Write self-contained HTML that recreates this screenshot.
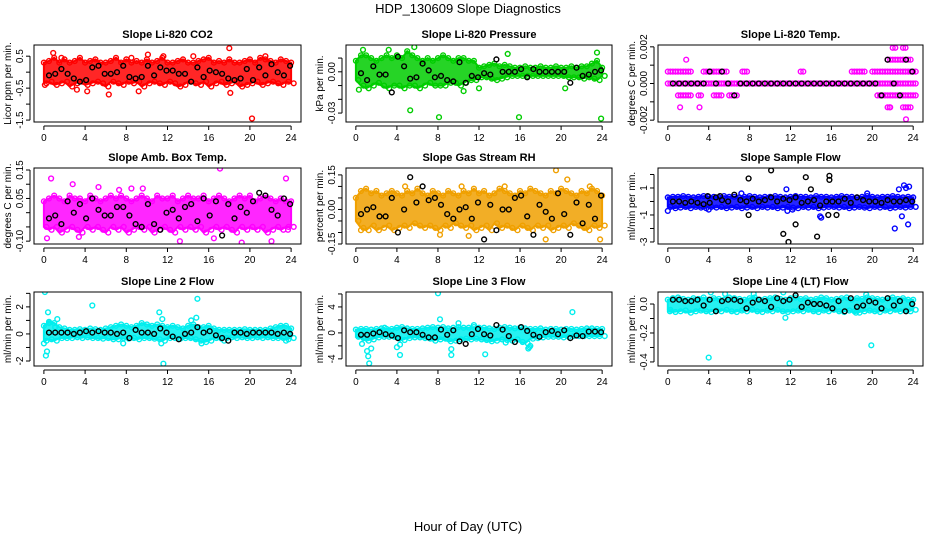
<!DOCTYPE html>
<html><head><meta charset="utf-8"><title>HDP_130609 Slope Diagnostics</title>
<style>
html,body{margin:0;padding:0;background:#fff;}
svg{display:block;font-family:"Liberation Sans",Arial,sans-serif;}
</style></head>
<body>
<svg id="chart" width="936" height="540" viewBox="0 0 936 540" xmlns="http://www.w3.org/2000/svg">
<rect width="936" height="540" fill="#fff"/>
<text x="468" y="13" text-anchor="middle" font-size="13">HDP_130609  Slope Diagnostics</text>
<text x="468" y="531" text-anchor="middle" font-size="13">Hour of Day (UTC)</text>
</svg>
<script>
// ---------- data ----------
const xTicks = [0,4,8,12,16,20,24];

const titles = ["Slope Li-820 CO2","Slope Li-820 Pressure","Slope Li-820 Temp.","Slope Amb. Box Temp.","Slope Gas Stream RH","Slope Sample Flow","Slope Line 2 Flow","Slope Line 3 Flow","Slope Line 4 (LT) Flow"];
const yTitles = ["Licor ppm per min.","kPa per min.","degrees C per min.","degrees C per min.","percent per min.","ml/min per min.","ml/min per min.","ml/min per min.","ml/min per min."];

const yTicks1 = [-1.5,-1,-0.5,0,0.5];           const yLabels1 = ["-1.5","","-0.5","","0.5"];
const yTicks2 = [-0.03,-0.02,-0.01,0,0.01];      const yLabels2 = ["-0.03","","","0.00",""];
const yTicks3 = [-0.002,-0.001,0,0.001,0.002];   const yLabels3 = ["-0.002","","0.000","","0.002"];
const yTicks4 = [-0.1,-0.05,0,0.05,0.1,0.15];    const yLabels4 = ["-0.10","","","0.05","","0.15"];
const yTicks5 = [-0.15,-0.1,-0.05,0,0.05,0.1,0.15]; const yLabels5 = ["-0.15","","","0.00","","","0.15"];
const yTicks6 = [-3,-2,-1,0,1,2];                const yLabels6 = ["-3","","-1","","1",""];
const yTicks7 = [-2,-1,0,1,2,3];                 const yLabels7 = ["-2","","0","","2",""];
const yTicks8 = [-4,-2,0,2,4,6];                 const yLabels8 = ["-4","","0","","4",""];
const yTicks9 = [-0.4,-0.3,-0.2,-0.1,0];         const yLabels9 = ["-0.4","","-0.2","","0.0"];

const upper1 = [0.3,0.35,0.45,0.3,0.4,0.3,0.35,0.45,0.3,0.35,0.4,0.3,0.3,0.35,0.45,0.3,0.4,0.3,0.35,0.3,0.4,0.3,0.35,0.45,0.3,0.3,0.35,0.4,0.3,0.3,0.35,0.4,0.45,0.3,0.35,0.3,0.4,0.3,0.3,0.35,0.4,0.3,0.45,0.4,0.35,0.3,0.4,0.35,0.3];
const lower1 = [-0.35,-0.3,-0.4,-0.35,-0.3,-0.45,-0.35,-0.3,-0.4,-0.35,-0.3,-0.35,-0.45,-0.3,-0.35,-0.4,-0.3,-0.35,-0.3,-0.45,-0.35,-0.3,-0.35,-0.4,-0.3,-0.35,-0.45,-0.4,-0.3,-0.35,-0.4,-0.3,-0.45,-0.35,-0.3,-0.4,-0.35,-0.3,-0.45,-0.4,-0.35,-0.3,-0.4,-0.35,-0.3,-0.35,-0.4,-0.3,-0.35];
const outliers1 = [[0.9,0.6],[1.7,0.45],[4.2,-0.6],[6.3,-0.7],[9.2,-0.6],[10.1,0.55],[11.6,0.5],[14.5,0.5],[18,0.75],[18.1,-0.65],[20.2,-1.45],[21.5,0.5],[0.1,-0.4],[3.2,-0.55],[8.5,0.45]];
const black1 = [-0.1,-0.05,0.1,-0.05,-0.2,-0.3,-0.25,0.15,0.2,-0.05,-0.05,0.0,0.2,-0.15,-0.2,-0.15,0.2,-0.1,0.15,0.05,0.05,-0.05,-0.05,-0.3,0.15,-0.15,0.05,0.0,-0.05,-0.2,-0.25,-0.2,0.1,-0.25,0.15,-0.1,0.25,0.0,-0.1,0.2];

const upper2 = [0.008,0.012,0.012,0.01,0.008,0.01,0.012,0.01,0.012,0.01,0.015,0.012,0.01,0.008,0.01,0.008,0.01,0.012,0.01,0.008,0.01,0.01,0.008,0.008,0.003,0.004,0.005,0.006,0.004,0.005,0.004,0.003,0.003,0.004,0.003,0.003,0.004,0.003,0.003,0.004,0.003,0.003,0.004,0.003,0.004,0.004,0.006,0.008,0.003];
const lower2 = [-0.006,-0.01,-0.012,-0.01,-0.008,-0.01,-0.012,-0.01,-0.01,-0.012,-0.01,-0.01,-0.012,-0.01,-0.008,-0.01,-0.01,-0.01,-0.008,-0.008,-0.01,-0.008,-0.006,-0.006,-0.004,-0.004,-0.005,-0.006,-0.005,-0.004,-0.003,-0.003,-0.003,-0.003,-0.003,-0.003,-0.003,-0.003,-0.003,-0.003,-0.003,-0.004,-0.004,-0.004,-0.005,-0.004,-0.005,-0.006,-0.003];
const outliers2 = [[5.3,-0.028],[8.1,-0.033],[15.9,-0.033],[23.9,-0.034],[5.7,0.018],[0.7,0.016],[3.2,0.016],[20.4,-0.012],[0.3,-0.013],[10.5,-0.014],[12,-0.012],[14.8,0.013],[23.5,0.014]];
const black2 = [-0.001,-0.006,0.004,-0.002,-0.002,-0.015,0.011,0.004,-0.005,-0.004,0.006,0.001,-0.004,-0.003,-0.006,-0.007,0.007,-0.008,-0.003,-0.004,-0.001,-0.002,0.009,0.0,0.0,0.0,0.002,-0.004,0.002,0.0,0.0,0.0,0.0,0.0,-0.008,0.003,-0.003,-0.002,0.0,0.001];

const upper3 = [1,1,1,1,1,0,0,1,1,1,1,1,0,0,0,1,0,0,0,0,0,0,0,0,0,0,1,0,0,0,0,0,0,0,0,0,1,1,1,0,1,1,1,2,3,2,3,2,1];
const lower3 = [0,0,-1,-1,-1,0,-1,0,0,-1,-1,0,-1,-1,0,0,0,0,0,0,0,0,0,0,0,0,0,0,0,0,0,0,0,0,0,0,0,0,0,0,0,-1,-1,-2,-1,-1,-2,-2,-1];
const outliers3 = [[1.8,2],[1.2,-2],[3.1,-2],[23.3,-3],[7.3,1],[21.7,-2]];
const black3 = [0,0,0,0,0,0,1,0,1,0,-1,0,0,0,0,0,0,0,0,0,0,0,0,0,0,0,0,0,0,0,0,0,0,0,-1,2,0,-1,2,1];

const upper4 = [0.04,0.05,0.06,0.05,0.04,0.06,0.05,0.05,0.04,0.06,0.05,0.04,0.05,0.06,0.05,0.06,0.05,0.04,0.05,0.06,0.05,0.04,0.06,0.05,0.05,0.06,0.04,0.05,0.06,0.05,0.05,0.06,0.04,0.05,0.06,0.05,0.04,0.05,0.06,0.05,0.06,0.04,0.05,0.06,0.05,0.04,0.05,0.04,0.04];
const lower4 = [-0.05,-0.06,-0.05,-0.07,-0.06,-0.05,-0.06,-0.07,-0.05,-0.06,-0.05,-0.06,-0.07,-0.05,-0.06,-0.05,-0.07,-0.06,-0.05,-0.06,-0.05,-0.07,-0.06,-0.05,-0.06,-0.07,-0.05,-0.06,-0.05,-0.06,-0.05,-0.07,-0.06,-0.05,-0.06,-0.05,-0.06,-0.07,-0.05,-0.06,-0.05,-0.06,-0.05,-0.07,-0.06,-0.05,-0.06,-0.05,-0.05];
const outliers4 = [[0.7,0.12],[2.8,0.1],[5.3,0.09],[3.4,-0.085],[0.3,-0.09],[13.2,-0.1],[17.1,0.155],[19.2,-0.105],[22.1,-0.1],[23.5,0.12],[8.5,0.085],[9.6,0.085],[7.3,0.08],[23.7,-0.06],[16.5,-0.09]];
const black4 = [-0.02,-0.01,-0.04,0.04,0.0,0.03,-0.02,0.05,0.01,-0.01,-0.01,0.02,0.02,-0.01,-0.04,-0.05,0.03,-0.04,-0.06,0.0,0.01,-0.02,0.02,0.03,-0.03,0.05,-0.01,0.04,-0.08,0.03,-0.02,0.02,0.0,0.04,0.07,0.06,0.01,-0.01,0.05,0.03];

const upper5 = [0.05,0.08,0.09,0.07,0.08,0.06,0.07,0.08,0.07,0.06,0.08,0.07,0.09,0.07,0.06,0.08,0.07,0.06,0.08,0.07,0.06,0.08,0.07,0.09,0.07,0.08,0.06,0.07,0.09,0.08,0.07,0.06,0.08,0.07,0.09,0.08,0.07,0.06,0.08,0.07,0.09,0.08,0.07,0.06,0.08,0.07,0.09,0.08,0.06];
const lower5 = [-0.05,-0.08,-0.09,-0.07,-0.09,-0.08,-0.07,-0.09,-0.08,-0.07,-0.08,-0.06,-0.07,-0.08,-0.07,-0.08,-0.09,-0.07,-0.08,-0.06,-0.07,-0.08,-0.07,-0.09,-0.08,-0.07,-0.09,-0.06,-0.08,-0.07,-0.08,-0.09,-0.07,-0.08,-0.09,-0.07,-0.08,-0.07,-0.09,-0.08,-0.07,-0.08,-0.06,-0.07,-0.08,-0.09,-0.07,-0.08,-0.07];
const outliers5 = [[18.5,-0.13],[19.5,0.17],[20.6,0.13],[10.3,0.1],[14.5,0.1],[4.8,0.1],[11,-0.115],[23.8,-0.13],[22.8,0.1],[0.5,-0.09],[8.2,-0.11]];
const black5 = [-0.02,0.0,0.01,-0.03,-0.03,0.05,-0.1,0.0,0.14,0.03,0.1,0.04,0.05,0.02,-0.02,-0.04,0.0,0.01,-0.04,0.03,-0.13,0.02,-0.09,0.0,0.0,0.05,0.06,-0.03,-0.11,0.02,-0.01,-0.04,0.07,-0.02,-0.11,0.03,-0.06,0.02,-0.04,0.06];

const upper6 = [0.3,0.35,0.35,0.4,0.35,0.3,0.35,0.4,0.35,0.35,0.3,0.4,0.35,0.35,0.3,0.35,0.4,0.35,0.3,0.35,0.35,0.4,0.35,0.3,0.35,0.4,0.35,0.35,0.3,0.4,0.35,0.35,0.3,0.35,0.4,0.35,0.35,0.3,0.35,0.4,0.35,0.3,0.35,0.35,0.4,0.35,0.3,0.35,0.3];
const lower6 = [-0.4,-0.5,-0.45,-0.4,-0.5,-0.4,-0.45,-0.5,-0.4,-0.45,-0.4,-0.5,-0.45,-0.4,-0.5,-0.45,-0.4,-0.5,-0.4,-0.45,-0.4,-0.5,-0.45,-0.4,-0.45,-0.5,-0.4,-0.45,-0.4,-0.5,-0.45,-0.4,-0.4,-0.45,-0.4,-0.5,-0.45,-0.4,-0.45,-0.5,-0.4,-0.45,-0.4,-0.5,-0.45,-0.4,-0.45,-0.4,-0.4];
const outliers6 = [[23.1,1.2],[23.3,1.0],[23.6,1.1],[22.2,-2.0],[23.5,-1.7],[22.9,-1.1],[15.0,-1.2],[14.9,-1.1],[11.6,0.9],[7.2,0.6],[19.5,0.6],[22.6,0.9],[0.0,-0.7],[4.0,-0.6],[11.7,-0.7],[12.2,-0.6]];
const black6 = [0.0,0.0,-0.1,0.0,-0.1,-0.2,-0.1,0.3,0.1,0.0,0.5,0.1,0.0,0.2,0.0,0.1,0.3,0.0,0.2,0.1,0.3,-0.1,0.0,0.1,-0.3,0.0,0.0,0.0,0.2,-0.1,0.3,0.1,0.0,0.0,-0.1,0.1,0.0,0.0,0.1,0.0];
const blackOut6 = [[10.1,2.3],[7.9,1.7],[13.5,1.8],[15.8,1.9],[15.8,1.6],[14.0,0.9],[7.9,-1.0],[11.3,-2.4],[11.8,-3.0],[12.5,-1.7],[14.6,-2.6],[15.7,-1.0],[16.5,-1.0],[5.1,0.4],[3.9,0.4]];

const upper7 = [0.6,0.9,0.8,0.5,0.4,0.3,0.3,0.35,0.3,0.4,0.35,0.3,0.4,0.5,0.6,0.7,0.6,0.5,0.6,0.8,0.7,0.6,0.7,0.6,0.5,0.6,0.5,0.4,0.6,0.7,0.5,0.5,0.6,0.4,0.3,0.3,0.3,0.3,0.3,0.35,0.3,0.3,0.3,0.3,0.4,0.5,0.6,0.6,0.4];
const lower7 = [-0.5,-0.4,-0.5,-0.3,-0.3,-0.3,-0.25,-0.3,-0.25,-0.3,-0.3,-0.35,-0.3,-0.4,-0.4,-0.3,-0.35,-0.3,-0.4,-0.3,-0.3,-0.35,-0.4,-0.5,-0.3,-0.3,-0.35,-0.3,-0.3,-0.4,-0.5,-0.6,-0.5,-0.3,-0.35,-0.3,-0.25,-0.3,-0.25,-0.3,-0.3,-0.25,-0.3,-0.25,-0.3,-0.3,-0.3,-0.4,-0.3];
const outliers7 = [[0.1,3.1],[0.0,-0.7],[0.2,-1.6],[0.3,-1.3],[0.4,1.6],[0.5,0.8],[1.3,1.1],[4.7,2.1],[11.2,1.6],[11.5,1.1],[11.6,-2.2],[11.4,-0.7],[14.9,2.6],[14.8,1.2],[15.3,-0.7],[17.5,-0.5],[23.5,-0.5],[7.7,-0.7],[1.1,0.5],[14.3,1.0]];
const black7 = [0.1,0.1,0.1,0.1,0.0,0.1,0.2,0.1,0.2,0.1,0.1,0.0,0.1,-0.3,0.3,0.1,0.1,0.0,0.4,0.1,-0.2,-0.4,0.0,0.1,0.5,0.1,0.2,-0.1,-0.3,-0.5,0.1,0.1,0.0,0.1,0.1,0.1,0.1,0.0,0.1,0.0];

const upper8 = [0.5,0.6,0.6,0.5,0.6,0.7,0.6,0.6,0.8,0.9,0.7,0.6,0.6,0.7,0.8,0.9,0.8,0.9,0.7,0.8,0.9,0.8,0.8,0.9,0.8,0.8,0.7,0.6,0.8,0.9,0.8,0.7,0.8,0.7,0.6,0.6,0.7,0.5,0.6,0.6,0.5,0.6,0.6,0.5,0.6,0.7,0.7,0.6,0.6];
const lower8 = [-0.6,-0.8,-1.2,-1.0,-0.7,-0.6,-0.6,-0.6,-0.9,-1.1,-0.8,-0.7,-0.7,-0.8,-0.9,-1.2,-1.0,-0.9,-1.3,-1.2,-1.0,-0.9,-1.0,-0.9,-1.0,-1.1,-1.3,-1.2,-1.0,-1.1,-1.2,-1.0,-1.4,-1.6,-0.9,-0.8,-0.7,-0.6,-0.6,-0.6,-0.7,-0.6,-0.5,-0.5,-0.5,-0.5,-0.5,-0.5,-0.5];
const outliers8 = [[8.0,6.1],[21.1,3.2],[8.2,2.1],[1.3,-4.7],[1.2,-3.6],[1.1,-2.8],[4.3,-3.4],[9.3,-3.4],[12.6,-3.3],[0.6,-1.7],[1.5,-2.4],[4.0,-2.2],[4.3,-1.8],[9.3,-2.5],[16.8,-2.4],[16.9,-2.2],[17.0,-2.0],[14.6,-1.5],[2.8,0.8],[10.0,1.5],[11.5,1.2]];
const black8 = [-0.3,-0.3,-0.1,0.1,-0.2,-0.4,-0.8,0.4,0.1,0.1,-0.3,-0.7,-0.7,0.5,-0.3,0.4,-1.3,-1.7,-0.2,0.6,-0.2,-0.4,1.2,0.5,-0.5,-1.4,0.9,0.3,-0.3,-0.6,0.1,0.3,-0.2,0.4,-0.8,-0.4,-0.5,0.2,0.2,0.1];

const upper9 = [0.03,0.04,0.045,0.035,0.03,0.04,0.035,0.045,0.03,0.04,0.035,0.03,0.045,0.04,0.035,0.03,0.04,0.045,0.03,0.035,0.04,0.045,0.035,0.03,0.04,0.045,0.035,0.04,0.03,0.035,0.045,0.04,0.03,0.035,0.04,0.045,0.03,0.04,0.035,0.045,0.04,0.035,0.03,0.04,0.045,0.035,0.04,0.03,0.03];
const lower9 = [-0.04,-0.055,-0.05,-0.045,-0.06,-0.05,-0.045,-0.05,-0.055,-0.045,-0.05,-0.04,-0.05,-0.055,-0.045,-0.05,-0.04,-0.05,-0.055,-0.045,-0.05,-0.04,-0.05,-0.055,-0.05,-0.045,-0.05,-0.04,-0.05,-0.055,-0.045,-0.05,-0.04,-0.05,-0.055,-0.045,-0.05,-0.06,-0.05,-0.045,-0.05,-0.055,-0.045,-0.05,-0.04,-0.05,-0.045,-0.05,-0.04];
const outliers9 = [[4.0,-0.37],[11.9,-0.41],[19.9,-0.285],[11.5,-0.095],[4.2,0.08],[11.3,0.08],[5.6,0.07],[8.4,0.07],[19.4,0.065],[0.2,-0.05],[18.4,-0.06]];
const black9 = [0.03,0.03,0.02,0.02,0.03,-0.01,0.03,-0.05,0.02,0.03,0.03,0.02,-0.03,0.01,0.03,0.02,-0.02,0.04,0.02,0.03,0.06,-0.02,0.01,0.0,0.0,-0.01,-0.03,0.02,-0.05,0.04,-0.02,-0.01,0.02,0.01,-0.03,0.04,-0.01,0.02,-0.05,0.0];

// ---------- layout ----------
const cols = [{l:34,r:301},{l:346,r:612},{l:658,r:923}];
const rows = [{t:45,b:122},{t:168,b:244},{t:292,b:366}];
const domains = [[-1.56,0.85],[-0.0365,0.0195],[-0.0021,0.0021],[-0.11,0.157],[-0.15,0.18],[-3.15,2.48],[-2.37,3.1],[-5.1,6.3],[-0.428,0.083]];
const colors = ["#ff0000","#00cd00","#ff00ff","#ff00ff","#f0a000","#0000ff","#00eeee","#00eeee","#00eeee"];
const level3 = 0.00065;

const panels = [
 {up:upper1,lo:lower1,out:outliers1,blk:black1,yt:yTicks1,yl:yLabels1},
 {up:upper2,lo:lower2,out:outliers2,blk:black2,yt:yTicks2,yl:yLabels2},
 {up:upper3,lo:lower3,out:outliers3,blk:black3,yt:yTicks3,yl:yLabels3,levels:true},
 {up:upper4,lo:lower4,out:outliers4,blk:black4,yt:yTicks4,yl:yLabels4},
 {up:upper5,lo:lower5,out:outliers5,blk:black5,yt:yTicks5,yl:yLabels5},
 {up:upper6,lo:lower6,out:outliers6,blk:black6,yt:yTicks6,yl:yLabels6,bout:blackOut6},
 {up:upper7,lo:lower7,out:outliers7,blk:black7,yt:yTicks7,yl:yLabels7},
 {up:upper8,lo:lower8,out:outliers8,blk:black8,yt:yTicks8,yl:yLabels8},
 {up:upper9,lo:lower9,out:outliers9,blk:black9,yt:yTicks9,yl:yLabels9}
];

const NS = "http://www.w3.org/2000/svg";
const svg = document.getElementById('chart');
function mk(tag, attrs, parent){
  const e = document.createElementNS(NS, tag);
  for (const k in attrs) e.setAttribute(k, attrs[k]);
  (parent||svg).appendChild(e);
  return e;
}

panels.forEach((p, i) => {
  const c = cols[i%3], r = rows[Math.floor(i/3)];
  const dom = domains[i], col = colors[i];
  const xs = h => c.l + (h + 0.96) / 25.92 * (c.r - c.l);
  const ys = v => r.b - (v - dom[0]) / (dom[1] - dom[0]) * (r.b - r.t);
  const g = mk('g', {});
  
  

  const clip = mk('clipPath', {id:'clip'+i}, g);
  mk('rect', {x:c.l, y:r.t, width:c.r-c.l, height:r.b-r.t}, clip);
  const plot = mk('g', {'clip-path':'url(#clip'+i+')'}, g);

  const circ = (h, v, stroke, name) => {
    const e = mk('circle', {cx:xs(h).toFixed(1), cy:ys(v).toFixed(1), r:2.4, fill:'none', stroke:stroke, 'stroke-width':1.4}, plot);
    
    
  };

  if (p.levels) {
    p.up.forEach((u, k) => {
      for (let lv = p.lo[k]; lv <= u; lv++) {
        circ(k*0.5, lv*level3, col, 'point');
        circ(k*0.5+0.25, lv*level3, col, 'point');
      }
    });
    p.out.forEach(o => circ(o[0], o[1]*level3, col, 'outlier-point'));
    p.blk.forEach((v, k) => circ(0.5 + k*23.4/(p.blk.length-1), v*level3, '#000', 'black-point'));
  } else {
    let d = '';
    p.up.forEach((v, k) => { d += (k? 'L':'M') + xs(k*0.5).toFixed(1) + ',' + ys(v).toFixed(1); });
    for (let k = p.lo.length-1; k >= 0; k--) d += 'L' + xs(k*0.5).toFixed(1) + ',' + ys(p.lo[k]).toFixed(1);
    const band = mk('path', {d:d+'Z', fill:col, 'fill-opacity':0.85, stroke:col, 'stroke-width':2}, plot);
    
    
    p.up.forEach((v, k) => circ(k*0.5, v, col, 'point'));
    p.lo.forEach((v, k) => circ(k*0.5+0.25, v, col, 'point'));
    p.out.forEach(o => circ(o[0], o[1], col, 'outlier-point'));
    p.blk.forEach((v, k) => circ(0.5 + k*23.4/(p.blk.length-1), v, '#000', 'black-point'));
    if (p.bout) p.bout.forEach(o => circ(o[0], o[1], '#000', 'black-point'));
  }

  const box = mk('rect', {x:c.l, y:r.t, width:c.r-c.l, height:r.b-r.t, fill:'none', stroke:'#000', 'stroke-width':1}, g);
  
  

  const t = mk('text', {x:(c.l+c.r)/2, y:r.t-7, 'text-anchor':'middle', 'font-size':11, 'font-weight':'bold'}, g);
  t.textContent = titles[i];
  
  

  mk('line', {x1:xs(0), x2:xs(24), y1:r.b+4, y2:r.b+4, stroke:'#000'}, g);
  xTicks.forEach(h => {
    mk('line', {x1:xs(h), x2:xs(h), y1:r.b+4, y2:r.b+8, stroke:'#000'}, g);
    const lt = mk('text', {x:xs(h), y:r.b+19, 'text-anchor':'middle', 'font-size':10}, g);
    lt.textContent = h;
    
    
  });
  const ax = c.l - 4;
  mk('line', {x1:ax, x2:ax, y1:ys(p.yt[0]), y2:ys(p.yt[p.yt.length-1]), stroke:'#000'}, g);
  p.yt.forEach((v, k) => {
    const yy = ys(v);
    mk('line', {x1:ax-4, x2:ax, y1:yy, y2:yy, stroke:'#000'}, g);
    if (p.yl[k]) {
      const lt = mk('text', {x:ax-7, y:yy, 'text-anchor':'middle', 'font-size':10, transform:'rotate(-90 '+(ax-7)+' '+yy+')'}, g);
      lt.textContent = p.yl[k];
      
      
    }
  });
  const yc = (r.t + r.b)/2, yx = c.l - 23;
  const yt = mk('text', {x:yx, y:yc, 'text-anchor':'middle', 'font-size':10, transform:'rotate(-90 '+yx+' '+yc+')'}, g);
  yt.textContent = yTitles[i];
  
  
});
</script>
</body></html>
